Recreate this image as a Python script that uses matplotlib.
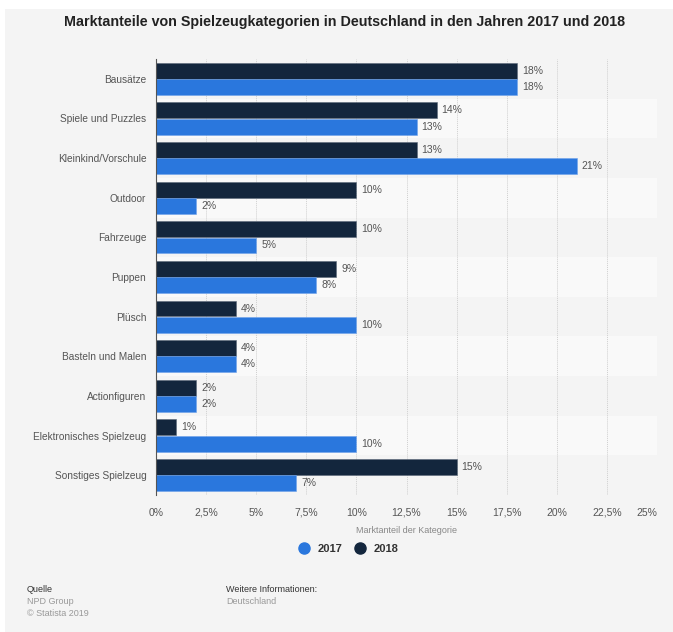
import numpy as np
import matplotlib.pyplot as plt
from matplotlib.patches import Rectangle
from matplotlib.lines import Line2D

plt.rcParams['font.family'] = ['Liberation Sans', 'DejaVu Sans']

categories = ['Bausätze', 'Spiele und Puzzles', 'Kleinkind/Vorschule', 'Outdoor',
              'Fahrzeuge', 'Puppen', 'Plüsch', 'Basteln und Malen', 'Actionfiguren',
              'Elektronisches Spielzeug', 'Sonstiges Spielzeug']
share_2018 = [18, 14, 13, 10, 10, 9, 4, 4, 2, 1, 15]
share_2017 = [18, 13, 21, 2, 5, 8, 10, 4, 2, 10, 7]
xticks = [0, 2.5, 5, 7.5, 10, 12.5, 15, 17.5, 20, 22.5, 25]
xtick_labels = ['0%', '2,5%', '5%', '7,5%', '10%', '12,5%', '15%', '17,5%', '20%', '22,5%', '25%']

blue = '#2a77dd'
navy = '#13263d'
bg = '#f4f4f4'

fig = plt.figure(figsize=(6.73, 6.32), dpi=100)
fig.patch.set_facecolor('white')
fig.patches.append(Rectangle((5 / 673, 0), 1, 1 - 9 / 632, transform=fig.transFigure,
                             facecolor=bg, edgecolor='none', zorder=-10))

ax = fig.add_axes([156 / 673, 137 / 632, 501 / 673, 436 / 632])
ax.set_facecolor('none')

y = np.arange(len(categories))
h = 0.4
off = 0.205

# every second row gets a lighter band
for i in y:
    if i % 2 == 1:
        ax.axhspan(i - 0.5, i + 0.5, color='#f9f9f9', zorder=0, lw=0)

ax.barh(y - off, share_2018, height=h, color=navy, edgecolor='#5a6878', linewidth=0.4, zorder=3)
ax.barh(y + off, share_2017, height=h, color=blue, edgecolor='#6fa3ea', linewidth=0.4, zorder=3)

for yi, v in zip(y, share_2018):
    ax.text(v + 0.25, yi - off, f'{v}%', va='center', ha='left', fontsize=7.5, color='#555555', zorder=4)
for yi, v in zip(y, share_2017):
    ax.text(v + 0.25, yi + off, f'{v}%', va='center', ha='left', fontsize=7.5, color='#555555', zorder=4)

ax.set_xlim(0, 25)
ax.set_ylim(len(categories) - 0.5, -0.5)
ax.set_yticks(y)
ax.set_yticklabels(categories, fontsize=7.3, color='#555555')
ax.set_xticks(xticks)
ax.set_xticklabels(xtick_labels, fontsize=7.5, color='#555555')
ax.get_xticklabels()[-1].set_horizontalalignment('right')
ax.tick_params(axis='y', length=0, pad=7)
ax.tick_params(axis='x', length=0, pad=9)
ax.xaxis.grid(True, color='#cfcfcf', linestyle=(0, (1, 1)), linewidth=0.7, zorder=1)
ax.set_axisbelow(True)
for s in ['top', 'right', 'bottom']:
    ax.spines[s].set_visible(False)
ax.spines['left'].set_color('#555555')
ax.spines['left'].set_linewidth(0.8)
ax.spines['left'].set_zorder(5)
ax.set_xlabel('Marktanteil der Kategorie', fontsize=6.5, color='#888888', labelpad=6)

fig.text(345 / 673, 1 - 22 / 632, 'Marktanteile von Spielzeugkategorien in Deutschland in den Jahren 2017 und 2018',
         ha='center', va='center', fontsize=10.3, fontweight='bold', color='#222222')

handles = [Line2D([], [], marker='o', linestyle='none', markersize=8, color=blue),
           Line2D([], [], marker='o', linestyle='none', markersize=8, color=navy)]
leg = fig.legend(handles, ['2017', '2018'], loc='center', bbox_to_anchor=(346 / 673, 1 - 549 / 632),
                 ncol=2, frameon=False, handletextpad=0.2, columnspacing=0.6, fontsize=8)
for t in leg.get_texts():
    t.set_fontweight('bold')
    t.set_color('#333333')

fig.text(27 / 673, 1 - 590 / 632, 'Quelle', fontsize=6.5, color='#333333', va='center')
fig.text(27 / 673, 1 - 602 / 632, 'NPD Group', fontsize=6.5, color='#999999', va='center')
fig.text(27 / 673, 1 - 614 / 632, '© Statista 2019', fontsize=6.5, color='#999999', va='center')
fig.text(226 / 673, 1 - 590 / 632, 'Weitere Informationen:', fontsize=6.5, color='#333333', va='center')
fig.text(226 / 673, 1 - 602 / 632, 'Deutschland', fontsize=6.5, color='#999999', va='center')

fig.savefig('out.png', dpi=100, facecolor=fig.get_facecolor())
